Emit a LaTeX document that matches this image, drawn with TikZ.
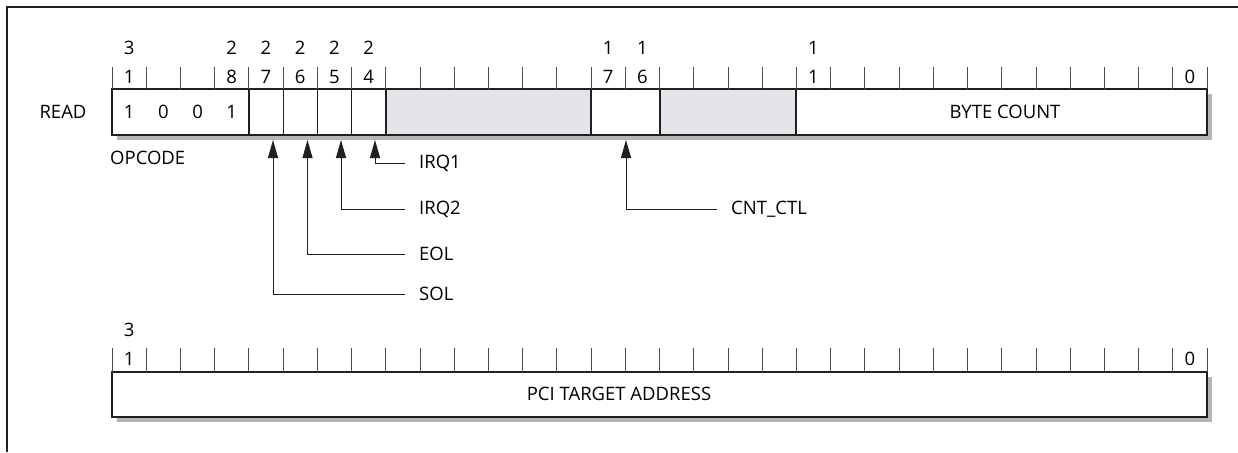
\documentclass[tikz,border=0pt]{standalone}
\usepackage{fontspec}
\setmainfont{Open Sans}
\usetikzlibrary{arrows.meta,positioning}
\definecolor{fieldgray}{HTML}{E2E4E7}
\definecolor{shadowgray}{HTML}{B3B5B8}
\definecolor{inkgray}{HTML}{231F20}
\tikzset{
  regbox/.style={
    draw=inkgray,
    line width=2.2pt
  },
  regshadow/.style={
    fill=shadowgray,
    draw=none
  },
  bitdiv/.style={
    draw=inkgray,
    line width=1.2pt
  },
  fielddiv/.style={
    draw=inkgray,
    line width=2pt
  },
  tickline/.style={
    draw=inkgray!80,
    line width=0.9pt
  },
  bitnum/.style={
    inner sep=0pt,
    font=\fontsize{18.5}{22}\selectfont
  },
  regtext/.style={
    inner sep=0pt,
    font=\fontsize{18.5}{22}\selectfont
  },
  flaglabel/.style={
    anchor=west,
    inner xsep=14pt,
    inner ysep=2pt,
    font=\fontsize{18.5}{22}\selectfont
  },
  pointer/.style={
    draw=inkgray,
    line width=1pt,
    -{Triangle[length=18pt,width=10pt]}
  }
}

\begin{document}
\begin{tikzpicture}[x=1pt,y=-1pt]
                \useasboundingbox (0,0) rectangle (1238,452);
                \draw[line width=1.5pt, inkgray] (7,452) -- (7,7) -- (1238,7);

                % READ register
                \fill[regshadow] (117,94) rectangle (1212,140);
                \fill[white] (112,89) rectangle (1207,135);
                \fill[fieldgray] (385.76,89) rectangle (591.08,135);
                \fill[fieldgray] (659.52,89) rectangle (796.40,135);
                \draw[bitdiv] (283.10,89) -- (283.10,135);
                \draw[bitdiv] (317.32,89) -- (317.32,135);
                \draw[bitdiv] (351.54,89) -- (351.54,135);
                \draw[fielddiv] (248.88,89) -- (248.88,135);
                \draw[fielddiv] (385.76,89) -- (385.76,135);
                \draw[fielddiv] (591.08,89) -- (591.08,135);
                \draw[fielddiv] (659.52,89) -- (659.52,135);
                \draw[fielddiv] (796.40,89) -- (796.40,135);
                \draw[regbox] (112,89) rectangle (1207,135);
                \foreach \k in {0,...,32}
                    \draw[tickline] ({112+34.22*\k},67) -- ({112+34.22*\k},89);

                \node[bitnum] (hi31) at (129.11,48) {3};
                \node[bitnum] (lo31) at (129.11,77) {1};
                \node[bitnum] (hi28) at (231.77,48) {2};
                \node[bitnum] (lo28) at (231.77,77) {8};
                \node[bitnum] (hi27) at (265.99,48) {2};
                \node[bitnum] (lo27) at (265.99,77) {7};
                \node[bitnum] (hi26) at (300.21,48) {2};
                \node[bitnum] (lo26) at (300.21,77) {6};
                \node[bitnum] (hi25) at (334.43,48) {2};
                \node[bitnum] (lo25) at (334.43,77) {5};
                \node[bitnum] (hi24) at (368.65,48) {2};
                \node[bitnum] (lo24) at (368.65,77) {4};
                \node[bitnum] (hi17) at (608.19,48) {1};
                \node[bitnum] (lo17) at (608.19,77) {7};
                \node[bitnum] (hi16) at (642.41,48) {1};
                \node[bitnum] (lo16) at (642.41,77) {6};
                \node[bitnum] (hi11) at (813.51,48) {1};
                \node[bitnum] (lo11) at (813.51,77) {1};
                \node[bitnum] (lo0) at (1189.93,77) {0};

                \node[regtext] (read) at (63,112) {READ};
                \node[regtext] (op31) at (129.11,112) {1};
                \node[regtext] (op30) at (163.33,112) {0};
                \node[regtext] (op29) at (197.55,112) {0};
                \node[regtext] (op28) at (231.77,112) {1};
                \node[regtext, anchor=west] (opcode) at (110,158) {OPCODE};
                \node[regtext] (bytecount) at (1005,112) {BYTE COUNT};

                \coordinate (p27) at (273,140);
                \coordinate (p26) at (307.5,140);
                \coordinate (p25) at (341,140);
                \coordinate (p24) at (375,140);
                \coordinate (p16) at (626,140);

                \node[flaglabel] (irq1) at (405,163) {IRQ1};
                \node[flaglabel] (irq2) at (405,209) {IRQ2};
                \node[flaglabel] (eol) at (405,254) {EOL};
                \node[flaglabel] (sol) at (405,294) {SOL};
                \node[flaglabel] (cntctl) at (717,209) {CNT\_CTL};

                \draw[pointer] (irq1.west) -| (p24);
                \draw[pointer] (irq2.west) -| (p25);
                \draw[pointer] (eol.west) -| (p26);
                \draw[pointer] (sol.west) -| (p27);
                \draw[pointer] (cntctl.west) -| (p16);

                % address word
                \fill[regshadow] (117,377) rectangle (1212,422);
                \fill[white] (112,372) rectangle (1207,417);
                \draw[regbox] (112,372) rectangle (1207,417);
                \foreach \k in {0,...,32}
                    \draw[tickline] ({112+34.22*\k},348) -- ({112+34.22*\k},372);

                \node[bitnum] (ahi31) at (129.11,330) {3};
                \node[bitnum] (alo31) at (129.11,359) {1};
                \node[bitnum] (alo0) at (1189.93,359) {0};
                \node[regtext] (pciaddr) at (619,394) {PCI TARGET ADDRESS};
\end{tikzpicture}
\end{document}
